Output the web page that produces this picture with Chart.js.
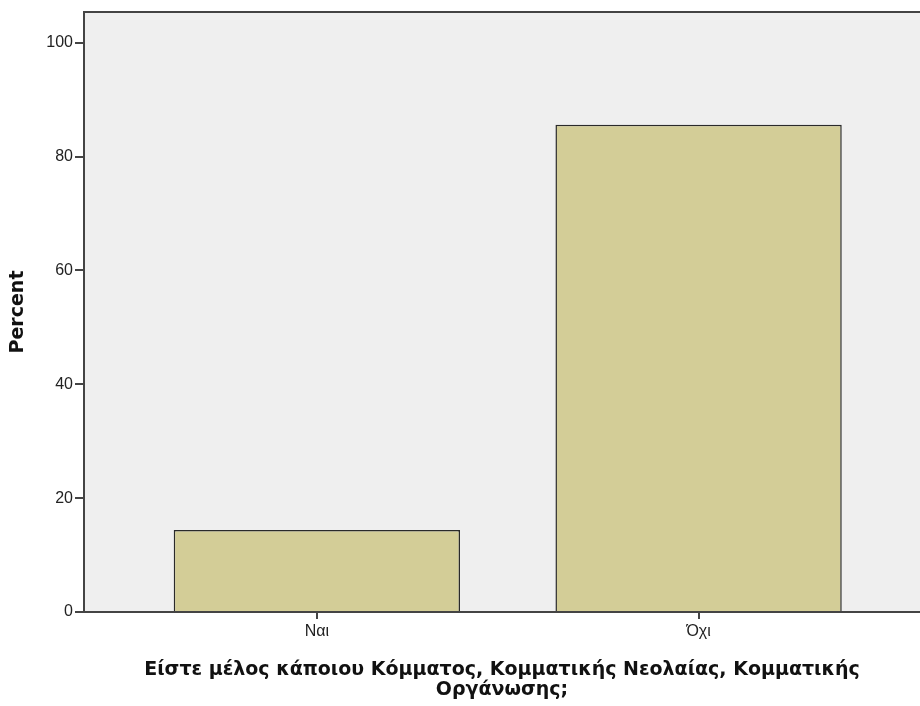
<!DOCTYPE html>
<html>
<head>
<meta charset="utf-8">
<script src="https://cdn.jsdelivr.net/npm/chart.js@4"></script>
<style>
  html, body { margin: 0; padding: 0; background: #fff; }
  #wrap { width: 920px; height: 706px; }
</style>
</head>
<body>
<div id="wrap"><canvas id="barChart" width="920" height="706"></canvas></div>
<script>
const categories = ["Ναι", "Όχι"];
const percent = [14.4, 85.6];
const yTicks = [0, 20, 40, 60, 80, 100];
const xTitle = ["Είστε μέλος κάποιου Κόμματος, Κομματικής Νεολαίας, Κομματικής", "Οργάνωσης;"];
const yTitle = "Percent";

// plot background + frame like SPSS
const plotFrame = {
    id: "plotFrame",
    beforeDraw(chart) {
        const a = chart.chartArea, c = chart.ctx;
        c.save();
        c.fillStyle = "#efefef";
        c.fillRect(a.left, a.top, a.right - a.left, a.bottom - a.top);
        c.strokeStyle = "#444";
        c.lineWidth = 2;
        c.beginPath();
        c.moveTo(a.left, a.bottom);
        c.lineTo(a.left, a.top);
        c.lineTo(a.right, a.top);
        c.stroke();
        c.restore();
    }
};

const ctx = document.getElementById("barChart");
new Chart(ctx, {
    type: "bar",
    data: {
        datasets: [{
            data: categories.map((c, i) => ({ x: i, y: percent[i] })),
            backgroundColor: "#d3cd97",
            borderColor: "#2a2a2a",
            borderWidth: 1.5,
            barPercentage: 0.75,
            categoryPercentage: 1
        }]
    },
    options: {
        responsive: false,
        animation: false,
        layout: { padding: { top: 12, right: 0, left: 0, bottom: 0 } },
        plugins: { legend: { display: false }, tooltip: { enabled: false } },
        scales: {
            x: {
                type: "linear",
                offset: false,
                min: -0.61,
                max: 1.58,
                afterBuildTicks(scale) { scale.ticks = categories.map((c, i) => ({ value: i })); },
                afterFit(scale) { scale.height = 94; },
                ticks: {
                    callback: (v) => categories[v],
                    color: "#222",
                    font: { family: "'Liberation Sans Narrow', 'Liberation Sans', Arial", size: 16 },
                    padding: 3
                },
                grid: { offset: false, drawOnChartArea: false, drawTicks: true, tickLength: 7, color: "#444", lineWidth: 2 },
                border: { color: "#444", width: 2 },
                title: {
                    display: true,
                    text: xTitle,
                    color: "#111",
                    font: { family: "'DejaVu Sans', Arial", size: 19, weight: "bold", lineHeight: "20px" },
                    padding: { top: 0, bottom: 6 }
                }
            },
            y: {
                min: 0,
                max: 105.4,
                afterBuildTicks(scale) { scale.ticks = yTicks.map(v => ({ value: v })); },
                afterFit(scale) { scale.width = 84; },
                ticks: {
                    color: "#222",
                    font: { family: "'Liberation Sans', Arial", size: 16 },
                    padding: 2
                },
                grid: { drawOnChartArea: false, drawTicks: true, tickLength: 9, color: "#444", lineWidth: 2 },
                border: { color: "#444", width: 2 },
                title: {
                    display: true,
                    text: yTitle,
                    color: "#111",
                    font: { family: "'DejaVu Sans', Arial", size: 19, weight: "bold" },
                    padding: { top: 7, bottom: 0 }
                }
            }
        }
    },
    plugins: [plotFrame]
});
</script>
</body>
</html>
